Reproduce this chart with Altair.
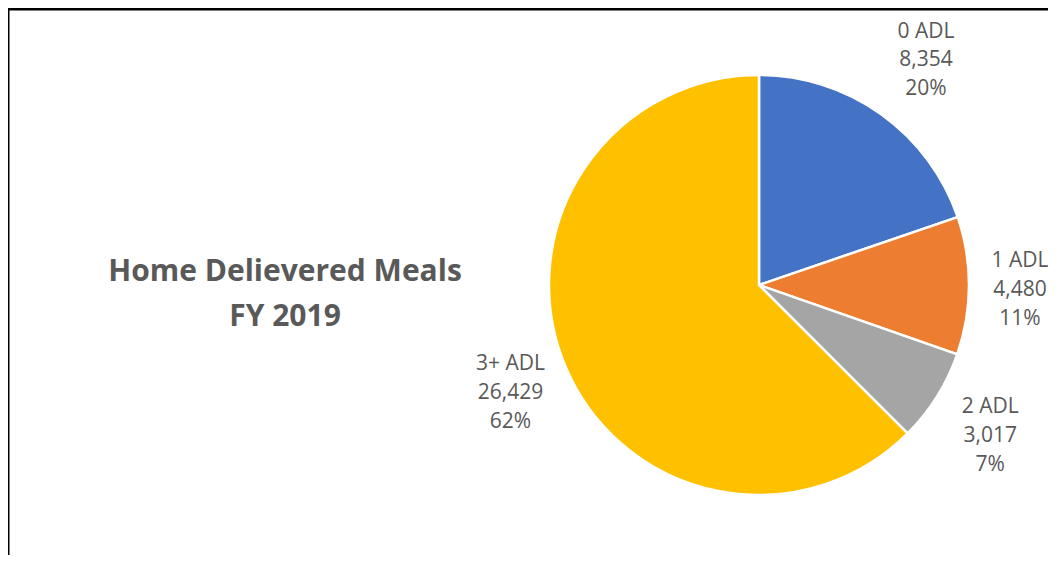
import altair as alt
import pandas as pd

categories = ["0 ADL", "1 ADL", "2 ADL", "3+ ADL"]
values = [8354, 4480, 3017, 26429]
percent_labels = ["20%", "11%", "7%", "62%"]
colors = ["#4472C4", "#ED7D31", "#A5A5A5", "#FFC000"]
title_lines = ["Home Delievered Meals", "FY 2019"]

df = pd.DataFrame({
    "cat": categories,
    "value": values,
    "pct": percent_labels,
    "idx": list(range(len(categories))),
})

W, H = 1040, 547
CX, CY = 751, 277
LABEL_RADIUS = {"0 ADL": 287, "1 ADL": 261, "2 ADL": 273, "3+ ADL": 269}
LABEL_DY = {"0 ADL": -20, "1 ADL": -25, "2 ADL": -23, "3+ ADL": -24}

base = alt.Chart(df).encode(
    theta=alt.Theta("value:Q", stack=True),
    order=alt.Order("idx:Q"),
)

pie = base.mark_arc(radius=210, stroke="white", strokeWidth=2.5).encode(
    color=alt.Color("cat:N", scale=alt.Scale(domain=categories, range=colors), legend=None),
    x=alt.value(CX),
    y=alt.value(CY),
)

label_layers = []
for c in categories:
    label_layers.append(
        base.transform_calculate(
            label="datum.cat + '\\n' + format(datum.value, ',') + '\\n' + datum.pct"
        ).mark_text(
            radius=LABEL_RADIUS[c], lineBreak="\n", lineHeight=28.8, font="Open Sans",
            fontSize=21, color="#595959", align="center", baseline="middle",
            dy=LABEL_DY[c],
        ).encode(
            text="label:N",
            x=alt.value(CX),
            y=alt.value(CY),
            opacity=alt.condition(f"datum.cat == '{c}'", alt.value(1), alt.value(0)),
        )
    )

title_df = pd.DataFrame({"t": ["\n".join(title_lines)]})
title = alt.Chart(title_df).mark_text(
    lineBreak="\n", lineHeight=45, font="Open Sans", fontSize=30, fontWeight="bold",
    color="#595959", align="center", baseline="middle",
).encode(text="t:N", x=alt.value(277), y=alt.value(264))

border_df = pd.DataFrame({"k": [0]})
top_rule = alt.Chart(border_df).mark_rule(color="black", strokeWidth=3).encode(
    x=alt.value(0), x2=alt.value(W), y=alt.value(1)
)
left_rule = alt.Chart(border_df).mark_rule(color="black", strokeWidth=3).encode(
    x=alt.value(0), y=alt.value(0), y2=alt.value(H)
)

chart = alt.layer(pie, *label_layers, title, top_rule, left_rule).properties(
    width=W, height=H, padding=0,
    autosize=alt.AutoSizeParams(type="none"),
).configure_view(stroke=None)

chart.save("out.html", embed_options={"renderer": "svg", "actions": False})
